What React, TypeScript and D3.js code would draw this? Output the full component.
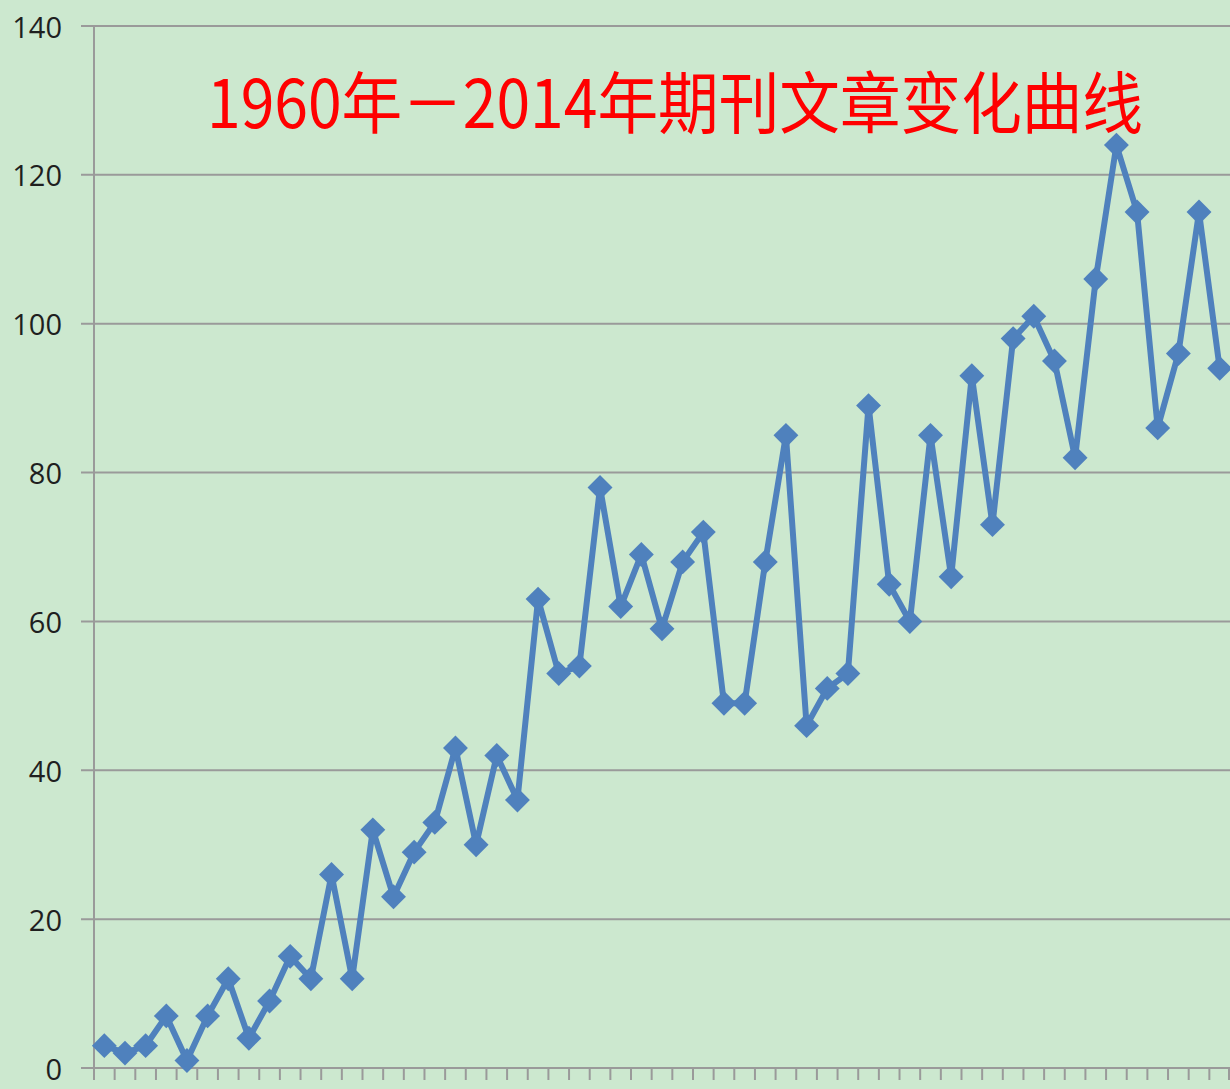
import React, { useEffect, useRef } from 'react';
import * as d3 from 'd3';

const years = d3.range(1960, 2015).map(String);

const articles = [
  3, 2, 3, 7, 1, 7, 12, 4, 9, 15,
  12, 26, 12, 32, 23, 29, 33, 43, 30, 42,
  36, 63, 53, 54, 78, 62, 69, 59, 68, 72,
  49, 49, 68, 85, 46, 51, 53, 89, 65, 60,
  85, 66, 93, 73, 98, 101, 95, 82, 106, 124,
  115, 86, 96, 115, 94,
];

const yTicks = [0, 20, 40, 60, 80, 100, 120, 140];

const title = '1960年－2014年期刊文章变化曲线';

const App: React.FC = () => {
  const svgRef = useRef<SVGSVGElement>(null);

  useEffect(() => {
    document.body.style.margin = '0';
    if (!svgRef.current) return;

    const svg = d3.select(svgRef.current);
    svg.selectAll('*').remove();

    const width = 1230;
    const height = 1089;
    const left = 94;
    const right = 1230;
    const top = 26;
    const bottom = 1068;

    svg.append('rect')
      .attr('width', width)
      .attr('height', height)
      .attr('fill', '#cce8cf');

    const xScale = d3.scaleBand<string>()
      .domain(years)
      .range([left, right]);

    const yScale = d3.scaleLinear()
      .domain([0, 140])
      .range([bottom, top]);

    // 网格线
    svg.append('g')
      .selectAll('line')
      .data(yTicks)
      .enter()
      .append('line')
      .attr('x1', left - 13)
      .attr('x2', right)
      .attr('y1', d => yScale(d))
      .attr('y2', d => yScale(d))
      .attr('stroke', '#9a9a9a')
      .attr('stroke-width', 2);

    // y 轴
    svg.append('line')
      .attr('x1', left)
      .attr('x2', left)
      .attr('y1', top)
      .attr('y2', bottom + 12)
      .attr('stroke', '#9a9a9a')
      .attr('stroke-width', 2);

    svg.append('g')
      .selectAll('text')
      .data(yTicks)
      .enter()
      .append('text')
      .attr('x', 62)
      .attr('y', d => yScale(d))
      .attr('text-anchor', 'end')
      .attr('dominant-baseline', 'central')
      .style('font-family', '"Open Sans", sans-serif')
      .style('font-size', '29px')
      .style('fill', '#1f1f1f')
      .text(d => d);

    // x 轴刻度（类别之间）
    const boundaries = years.map(y => xScale(y)!).concat([right - 1]);
    svg.append('g')
      .selectAll('line')
      .data(boundaries)
      .enter()
      .append('line')
      .attr('x1', d => d)
      .attr('x2', d => d)
      .attr('y1', bottom)
      .attr('y2', bottom + 12)
      .attr('stroke', '#9a9a9a')
      .attr('stroke-width', 2);

    // 折线
    const cx = (i: number) => xScale(years[i])! + xScale.bandwidth() / 2;
    const line = d3.line<number>()
      .x((d, i) => cx(i))
      .y(d => yScale(d));

    svg.append('path')
      .datum(articles)
      .attr('d', line)
      .attr('fill', 'none')
      .attr('stroke', '#4f81bd')
      .attr('stroke-width', 6)
      .attr('stroke-linejoin', 'round');

    const diamond = d3.symbol().type(d3.symbolSquare).size(310);
    svg.append('g')
      .selectAll('path')
      .data(articles)
      .enter()
      .append('path')
      .attr('d', diamond)
      .attr('transform', (d, i) => `translate(${cx(i)},${yScale(d)}) rotate(45)`)
      .attr('fill', '#4f81bd');

    // 标题（纵向略拉伸）
    svg.append('g')
      .attr('transform', 'translate(207,128) scale(1,1.12)')
      .append('text')
      .attr('x', 0)
      .attr('y', 0)
      .attr('textLength', 936)
      .attr('lengthAdjust', 'spacingAndGlyphs')
      .style('font-family', '"Noto Sans CJK SC", sans-serif')
      .style('font-size', '60px')
      .style('fill', '#ff0000')
      .text(title);
  }, []);

  return (
    <div style={{ width: 1230, height: 1089 }}>
      <svg ref={svgRef} width={1230} height={1089} style={{ display: 'block' }} />
    </div>
  );
};

export default App;
